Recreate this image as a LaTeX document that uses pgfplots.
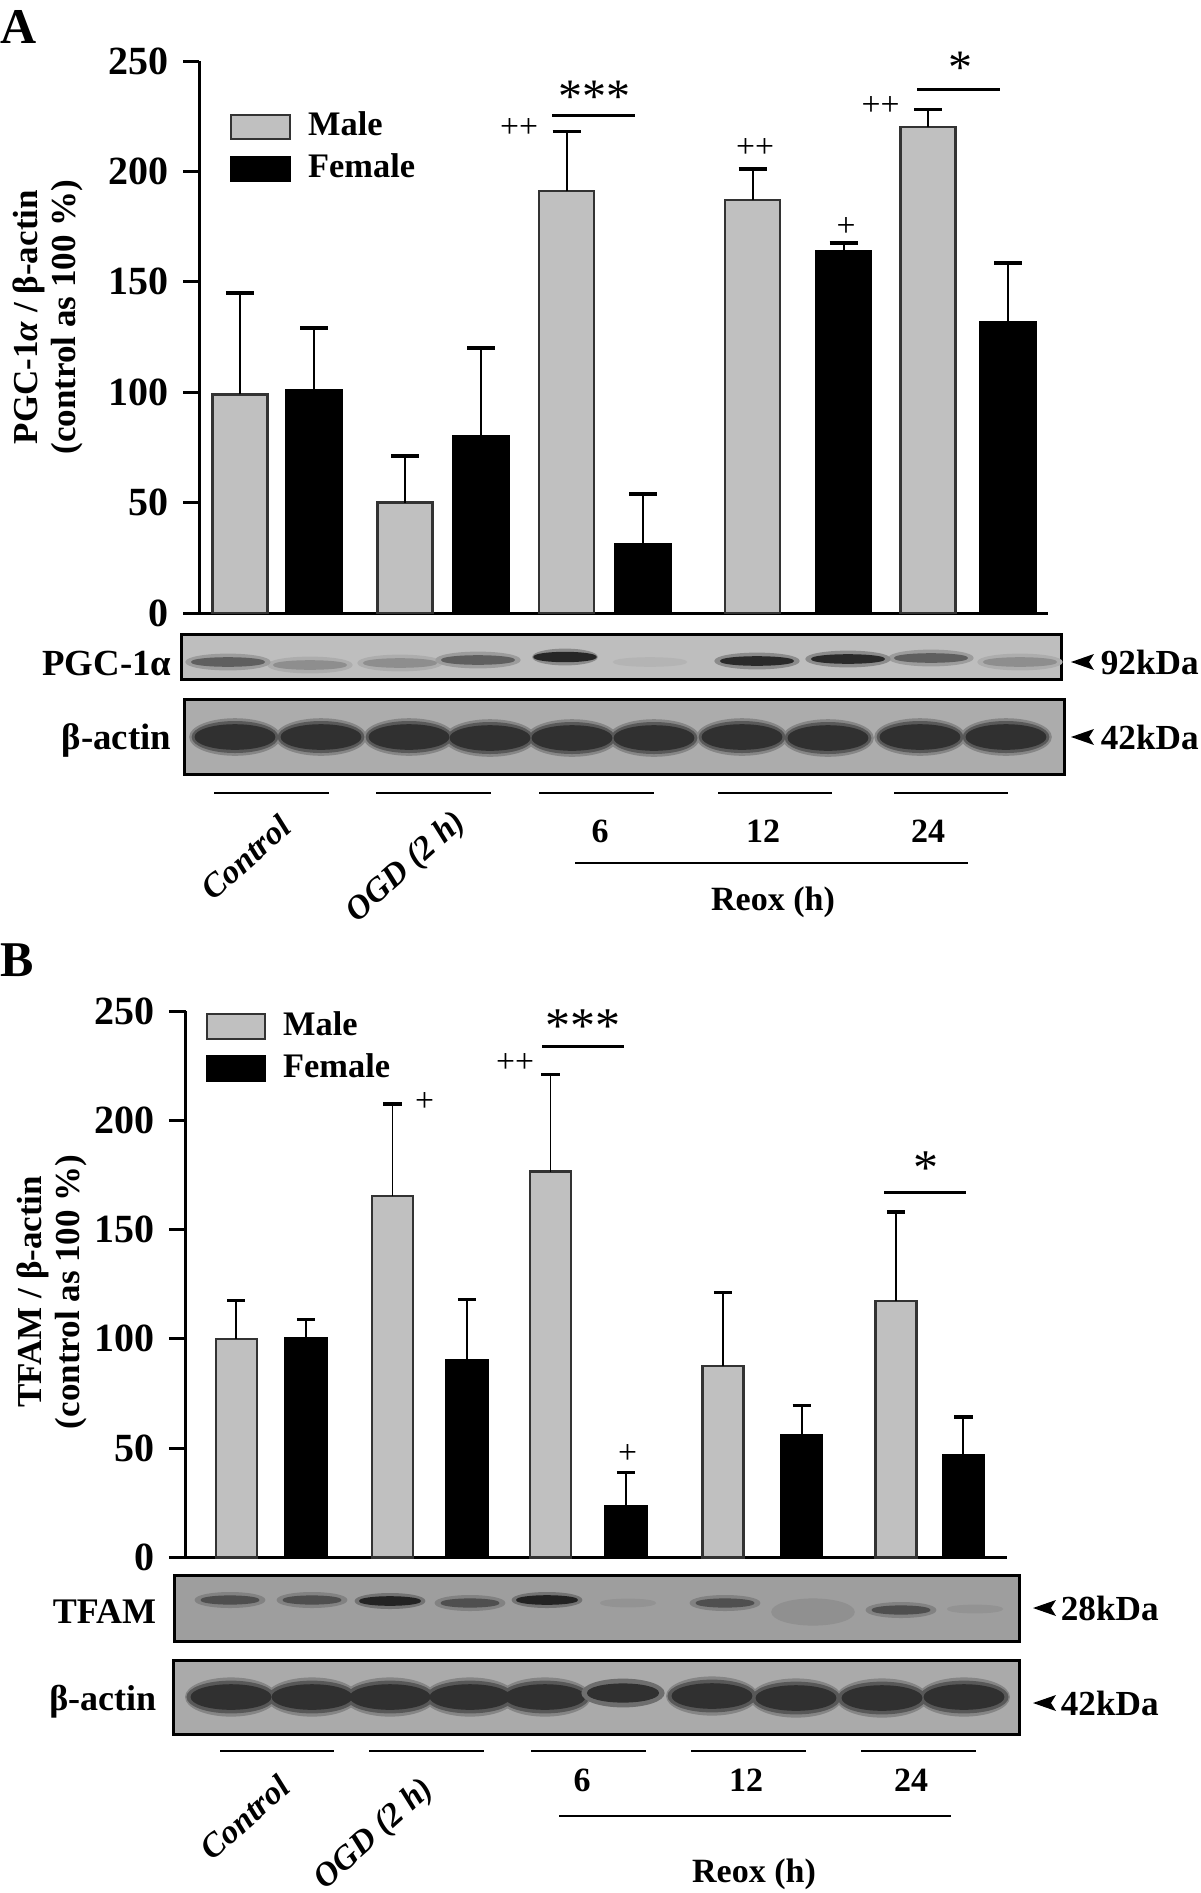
\documentclass[border=0pt]{standalone}
\usepackage{pgfplots}
\usepackage{pgfplotstable}
\pgfplotsset{compat=1.18}
\usepackage{fontspec}
\setmainfont{Liberation Serif}
\definecolor{malegray}{RGB}{192,192,192}
\definecolor{bgAa}{RGB}{190,190,190}
\definecolor{bgAb}{RGB}{172,172,172}
\definecolor{bgBa}{RGB}{158,158,158}
\definecolor{bgBb}{RGB}{170,170,170}

\pgfplotstableread{
x y e
239.8 99 46
405 50 21
566.5 191 27
752.7 187 14
928 220 8
}\maleA
\pgfplotstableread{
x y e
314 101 28
481 80 40
643 31 23
843.5 164 3.5
1008 131.5 27
}\femaleA
\pgfplotstableread{
x y e
236.3 100 17.6
392.5 165.4 42
550.5 176.5 44.4
723 87.5 33.8
896 117.2 40.8
}\maleB
\pgfplotstableread{
x y e
306 100.3 8.6
467 90.3 27.8
626 23.5 15.4
801.7 55.8 13.8
963.3 46.8 17.4
}\femaleB

\pgfplotsset{
  barax/.style={anchor=south west, scale only axis, clip=false, enlargelimits=false,
    axis lines*=left, axis line style={line width=0.75pt, black},
    xtick=\empty, ytick={0,50,...,250}, ymin=0, ymax=250,
    tick align=outside, major tick length=4pt, tick style={line width=0.75pt, black},
    yticklabel style={font=\bfseries\fontsize{10}{12}\selectfont},
    /pgf/number format/assume math mode=true,
    legend cell align=left,
    legend style={draw=none, fill=none, font=\bfseries\fontsize{8.6}{10}\selectfont, anchor=north west,
      row sep=-1pt, /tikz/every odd column/.append style={column sep=2.25pt}},
    ylabel style={align=center, font=\bfseries\fontsize{8.75}{9.6}\selectfont, anchor=center},
  },
  blot/.style={anchor=south west, scale only axis, enlargelimits=false, y dir=reverse,
    xtick=\empty, ytick=\empty, axis line style={line width=0.75pt, black}, axis on top},
  band/.style={only marks, mark=*, mark options={draw=none, xscale=#1}},
}

\begin{document}
\begin{tikzpicture}
\path[use as bounding box] (0pt,0pt) rectangle (300pt,-473.25pt);

% ---------------- Panel A ----------------
\begin{axis}[barax, at={(49.75pt,-153.25pt)}, width=212.25pt, height=138pt, xmin=199, xmax=1048,
  ylabel={PGC-1\textit{α} / β-actin\\(control as 100 \%)},
  ylabel style={at={(axis description cs:-0.178,0.536)}},
  legend style={at={(axis cs:217,234.5)}}]
\addplot[ybar, bar width=55, bar shift=0pt, fill=malegray, draw=black!80, line width=0.6pt,
  legend image code/.code={\draw[fill=malegray, draw=black!80, line width=0.6pt] (0pt,-3pt) rectangle (14.75pt,3pt);},
  error bars/.cd, y dir=plus, y explicit, error bar style={line width=0.5pt, black},
  error mark options={rotate=90, mark size=3.5pt, line width=0.9pt, black}]
  table[x=x, y=y, y error=e] {\maleA};
\addlegendentry{Male}
\addplot[ybar, bar width=55, bar shift=0pt, fill=black, draw=black, line width=0.6pt,
  legend image code/.code={\draw[fill=black, draw=black, line width=0.6pt] (0pt,-3pt) rectangle (14.75pt,3pt);},
  error bars/.cd, y dir=plus, y explicit, error bar style={line width=0.5pt, black},
  error mark options={rotate=90, mark size=3.5pt, line width=0.9pt, black}]
  table[x=x, y=y, y error=e] {\femaleA};
\addlegendentry{Female}
\node[font=\fontsize{8.4}{10}\selectfont, inner sep=0pt] at (axis cs:519,219.7) {++};
\draw[line width=0.75pt] (axis cs:552,225.5) -- (axis cs:635,225.5);
\node[font=\fontsize{12}{14}\selectfont, inner sep=0pt, anchor=base] at (axis cs:594,226.7) {***};
\node[font=\fontsize{8.4}{10}\selectfont, inner sep=0pt] at (axis cs:755,210.8) {++};
\node[font=\fontsize{8.4}{10}\selectfont, inner sep=0pt] at (axis cs:846,175) {+};
\node[font=\fontsize{8.4}{10}\selectfont, inner sep=0pt] at (axis cs:880.5,229.7) {++};
\draw[line width=0.75pt] (axis cs:917,237) -- (axis cs:1000,237);
\node[font=\fontsize{12}{14}\selectfont, inner sep=0pt, anchor=base] at (axis cs:960,240) {*};
\end{axis}

% PGC-1alpha blot
\begin{axis}[blot, at={(45.25pt,-169.75pt)}, width=220pt, height=11.25pt, xmin=181, xmax=1061, ymin=634, ymax=679,
  axis background/.style={fill=bgAa}]
\addplot[band=5.5, mark size=1.9pt, color=black!9!bgAa] coordinates {(310,665) (400,663) (1020,662)};
\addplot[band=5.5, mark size=1.9pt, color=black!18!bgAa] coordinates {(228,662) (478,660) (931,658)};
\addplot[band=5.5, mark size=1.9pt, color=black!27!bgAa] coordinates {(757,661) (848,659)};
\addplot[band=4.2, mark size=1.9pt, color=black!27!bgAa] coordinates {(565,657)};
\addplot[band=9, mark size=1.0pt, color=black!25!bgAa] coordinates {(310,665) (400,663) (1020,662)};
\addplot[band=9, mark size=1.0pt, color=black!50!bgAa] coordinates {(228,662) (478,660) (931,658)};
\addplot[band=9, mark size=1.0pt, color=black!78!bgAa] coordinates {(757,661) (848,659)};
\addplot[band=7, mark size=1.1pt, color=black!80!bgAa] coordinates {(565,657)};
\addplot[band=9, mark size=1.0pt, color=black!5!bgAa] coordinates {(650,662)};
\end{axis}
% beta-actin blot A
\begin{axis}[blot, at={(46pt,-193.5pt)}, width=220pt, height=18.75pt, xmin=184, xmax=1064, ymin=699, ymax=774,
  axis background/.style={fill=bgAb}]
\addplot[band=2.5, mark size=4.5pt, color=black!22!bgAb] coordinates {
(235,737) (321,737) (409,737) (490,738) (572,738) (654,738) (742,737) (828,738) (920,737) (1006,737)};
\addplot[band=2.8, mark size=3.8pt, color=black!48!bgAb] coordinates {
(235,737) (321,737) (409,737) (490,738) (572,738) (654,738) (742,737) (828,738) (920,737) (1006,737)};
\addplot[band=3.3, mark size=3.0pt, color=black!72!bgAb] coordinates {
(235,737) (321,737) (409,737) (490,738) (572,738) (654,738) (742,737) (828,738) (920,737) (1006,737)};
\end{axis}

% ---------------- Panel B ----------------
\begin{axis}[barax, at={(46.425pt,-389.325pt)}, width=205.33pt, height=136.58pt, xmin=185.7, xmax=1007,
  major tick length=4.2pt,
  ylabel={TFAM / β-actin\\(control as 100 \%)},
  ylabel style={at={(axis description cs:-0.163,0.486)}},
  legend style={at={(axis cs:193,257.4)}}]
\addplot[ybar, bar width=41, bar shift=0pt, fill=malegray, draw=black!80, line width=0.6pt,
  legend image code/.code={\draw[fill=malegray, draw=black!80, line width=0.6pt] (0pt,-3.1pt) rectangle (14.5pt,3.1pt);},
  error bars/.cd, y dir=plus, y explicit, error bar style={line width=0.45pt, black},
  error mark options={rotate=90, mark size=2.3pt, line width=0.8pt, black}]
  table[x=x, y=y, y error=e] {\maleB};
\addlegendentry{Male}
\addplot[ybar, bar width=41, bar shift=0pt, fill=black, draw=black, line width=0.6pt,
  legend image code/.code={\draw[fill=black, draw=black, line width=0.6pt] (0pt,-3.1pt) rectangle (14.5pt,3.1pt);},
  error bars/.cd, y dir=plus, y explicit, error bar style={line width=0.45pt, black},
  error mark options={rotate=90, mark size=2.3pt, line width=0.8pt, black}]
  table[x=x, y=y, y error=e] {\femaleB};
\addlegendentry{Female}
\node[font=\fontsize{8.4}{10}\selectfont, inner sep=0pt] at (axis cs:424.6,208.5) {+};
\node[font=\fontsize{8.4}{10}\selectfont, inner sep=0pt] at (axis cs:515,226) {++};
\draw[line width=0.75pt] (axis cs:542,233.7) -- (axis cs:624,233.7);
\node[font=\fontsize{12.5}{14}\selectfont, inner sep=0pt, anchor=base] at (axis cs:583,235.4) {***};
\node[font=\fontsize{8.4}{10}\selectfont, inner sep=0pt] at (axis cs:627.5,47.4) {+};
\draw[line width=0.75pt] (axis cs:884,167) -- (axis cs:966,167);
\node[font=\fontsize{12.5}{14}\selectfont, inner sep=0pt, anchor=base] at (axis cs:925.8,170.4) {*};
\end{axis}

% TFAM blot
\begin{axis}[blot, at={(43.5pt,-410.25pt)}, width=211.25pt, height=16.5pt, xmin=174, xmax=1019, ymin=1575, ymax=1641,
  axis background/.style={fill=bgBa}]
\addplot[band=4.8, mark size=1.8pt, color=black!18!bgBa] coordinates {(230,1600) (312,1600) (470,1603) (725,1603) (901,1610)};
\addplot[band=4.8, mark size=1.8pt, color=black!27!bgBa] coordinates {(390,1601) (547,1600)};
\addplot[band=3.2, mark size=3.2pt, color=black!9!bgBa] coordinates {(813,1612)};
\addplot[band=7.5, mark size=0.95pt, color=black!50!bgBa] coordinates {(230,1600) (312,1600) (470,1603) (725,1603) (901,1610)};
\addplot[band=7.5, mark size=1.0pt, color=black!78!bgBa] coordinates {(390,1601) (547,1600)};
\addplot[band=7.5, mark size=0.9pt, color=black!7!bgBa] coordinates {(628,1603) (975,1609)};
\end{axis}
% beta-actin blot B
\begin{axis}[blot, at={(43.25pt,-433.5pt)}, width=211.5pt, height=18.5pt, xmin=173, xmax=1019, ymin=1660, ymax=1734,
  axis background/.style={fill=bgBb}]
\addplot[band=2.4, mark size=4.7pt, color=black!22!bgBb] coordinates {
(231,1697) (312,1697) (390,1697) (470,1697) (545,1697) (712,1696) (796,1698) (882,1698) (964,1697)};
\addplot[band=2.8, mark size=3.9pt, color=black!48!bgBb] coordinates {
(231,1697) (312,1697) (390,1697) (470,1697) (545,1697) (712,1696) (796,1698) (882,1698) (964,1697)};
\addplot[band=3.3, mark size=3.0pt, color=black!72!bgBb] coordinates {
(231,1697) (312,1697) (390,1697) (470,1697) (545,1697) (712,1696) (796,1698) (882,1698) (964,1697)};
\addplot[band=3.0, mark size=3.4pt, color=black!35!bgBb] coordinates {(623,1693)};
\addplot[band=4.0, mark size=2.2pt, color=black!72!bgBb] coordinates {(623,1693)};
\end{axis}

% ---------------- annotations in pixel coordinates ----------------
\begin{scope}[x=0.25pt, y=-0.25pt]
\node[font=\bfseries\fontsize{12.5}{14}\selectfont, inner sep=0pt] at (19,27) {A};
\node[font=\bfseries\fontsize{9.2}{11}\selectfont, inner sep=0pt, anchor=east] at (172,663) {PGC-1α};
\node[font=\bfseries\fontsize{9.2}{11}\selectfont, inner sep=0pt, anchor=east] at (172,740) {β-actin};
\fill (1071,662) -- (1094,654) -- (1089,662) -- (1094,670) -- cycle;
\node[font=\bfseries\fontsize{8.8}{10}\selectfont, inner sep=0pt, anchor=west] at (1100,662) {92kDa};
\fill (1071,737) -- (1094,729) -- (1089,737) -- (1094,745) -- cycle;
\node[font=\bfseries\fontsize{8.8}{10}\selectfont, inner sep=0pt, anchor=west] at (1100,737) {42kDa};
\foreach \a/\b in {214/329, 376/491, 539/654, 718/832, 894/1008}
  \draw[line width=0.7pt] (\a,793) -- (\b,793);
\node[font=\bfseries\itshape\fontsize{8.4}{10}\selectfont, inner sep=0pt, rotate=42, anchor=east] at (286,821) {Control};
\node[font=\bfseries\itshape\fontsize{8.4}{10}\selectfont, inner sep=0pt, rotate=42, anchor=east] at (462,818) {OGD (2 h)};
\node[font=\bfseries\fontsize{8.5}{10}\selectfont, inner sep=0pt] at (600,831) {6};
\node[font=\bfseries\fontsize{8.5}{10}\selectfont, inner sep=0pt] at (763,831) {12};
\node[font=\bfseries\fontsize{8.5}{10}\selectfont, inner sep=0pt] at (928,831) {24};
\draw[line width=0.7pt] (575,863) -- (968,863);
\node[font=\bfseries\fontsize{8.5}{10}\selectfont, inner sep=0pt] at (773,902) {Reox (h)};

\node[font=\bfseries\fontsize{12.5}{14}\selectfont, inner sep=0pt] at (17,960) {B};
\node[font=\bfseries\fontsize{9}{11}\selectfont, inner sep=0pt, anchor=east] at (157,1612) {TFAM};
\node[font=\bfseries\fontsize{9}{11}\selectfont, inner sep=0pt, anchor=east] at (157,1702) {β-actin};
\fill (1033,1608) -- (1056,1600) -- (1051,1608) -- (1056,1616) -- cycle;
\node[font=\bfseries\fontsize{8.8}{10}\selectfont, inner sep=0pt, anchor=west] at (1060,1608) {28kDa};
\fill (1033,1703) -- (1056,1695) -- (1051,1703) -- (1056,1711) -- cycle;
\node[font=\bfseries\fontsize{8.8}{10}\selectfont, inner sep=0pt, anchor=west] at (1060,1703) {42kDa};
\foreach \a/\b in {220/334, 369/484, 531/646, 691/806, 861/976}
  \draw[line width=0.7pt] (\a,1751) -- (\b,1751);
\node[font=\bfseries\itshape\fontsize{8.4}{10}\selectfont, inner sep=0pt, rotate=42, anchor=east] at (285,1781) {Control};
\node[font=\bfseries\itshape\fontsize{8.4}{10}\selectfont, inner sep=0pt, rotate=42, anchor=east] at (430,1785) {OGD (2 h)};
\node[font=\bfseries\fontsize{8.5}{10}\selectfont, inner sep=0pt] at (582,1780) {6};
\node[font=\bfseries\fontsize{8.5}{10}\selectfont, inner sep=0pt] at (746,1780) {12};
\node[font=\bfseries\fontsize{8.5}{10}\selectfont, inner sep=0pt] at (911,1780) {24};
\draw[line width=0.7pt] (559,1816) -- (951,1816);
\node[font=\bfseries\fontsize{8.5}{10}\selectfont, inner sep=0pt] at (754,1874) {Reox (h)};
\end{scope}
\end{tikzpicture}
\end{document}
